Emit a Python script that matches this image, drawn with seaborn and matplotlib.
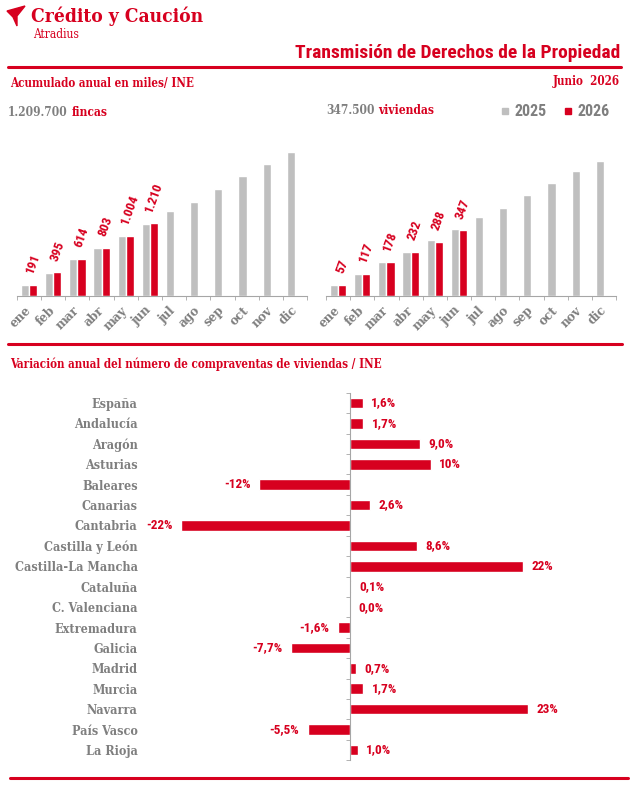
import numpy as np
import pandas as pd
import seaborn as sns
import matplotlib.pyplot as plt
from matplotlib import font_manager as fm
from matplotlib.lines import Line2D
from matplotlib.patches import Polygon

# --- datos ---
meses = ['ene', 'feb', 'mar', 'abr', 'may', 'jun', 'jul', 'ago', 'sep', 'oct', 'nov', 'dic']
fincas_2025 = [189, 389, 616, 805, 1005, 1199, 1410, 1571, 1776, 1998, 2198, 2398]
fincas_2026 = [191, 395, 614, 803, 1004, 1210]
viviendas_2025 = [58, 118, 181, 234, 298, 352, 419, 467, 532, 600, 660, 713]
viviendas_2026 = [57, 117, 178, 232, 288, 347]
total_fincas = 1209700
total_viviendas = 347500

regiones = ['España', 'Andalucía', 'Aragón', 'Asturias', 'Baleares', 'Canarias', 'Cantabria',
            'Castilla y León', 'Castilla-La Mancha', 'Cataluña', 'C. Valenciana', 'Extremadura',
            'Galicia', 'Madrid', 'Murcia', 'Navarra', 'País Vasco', 'La Rioja']
variacion = [1.6, 1.7, 9.0, 10.4, -11.8, 2.6, -21.8, 8.6, 22.4, 0.1, 0.0, -1.6,
             -7.7, 0.7, 1.7, 23.0, -5.5, 1.0]

RED = '#D7001F'
GRAY_BAR = '#BFBFBF'
GRAY_TXT = '#7F7F7F'
GRAY_AX = '#A6A6A6'

sns.set_style('white')
installed = {f.name for f in fm.fontManager.ttflist}
SANS = 'Roboto Condensed' if 'Roboto Condensed' in installed else 'Roboto'
plt.rcParams['font.family'] = [SANS, 'DejaVu Sans']

# slab serif: condensed cut if the system has it, otherwise the normal one a bit smaller
SLAB = 'DejaVu Serif'
slab_file = fm.findfont(fm.FontProperties(family=SLAB, weight='bold', stretch='condensed'))
K = 1.1 if 'Condensed' in slab_file else 1.0
slab = dict(family=SLAB, fontstretch='condensed', fontweight='bold')

W, H = 630, 794
fig = plt.figure(figsize=(W / 100, H / 100), dpi=100)


def fx(x):
    return x / W


def fy(y):
    return 1 - y / H


def box(left, top, right, bottom):
    return [fx(left), fy(bottom), (right - left) / W, (bottom - top) / H]


def miles(v):
    return f'{v:,}'.replace(',', '.')


def pct(v):
    if abs(v) >= 10:
        return f'{v:.0f}%'
    return f'{v:.1f}%'.replace('.', ',')


# --- cabecera ---
fig.add_artist(Polygon([(fx(7), fy(11)), (fx(25), fy(6)), (fx(17), fy(16)), (fx(17), fy(26)),
                        (fx(13), fy(17))], closed=True, color=RED, transform=fig.transFigure))
fig.text(fx(31), fy(16), 'Crédito y Caución', color=RED, fontsize=12.5 * K, va='center', **slab)
fig.text(fx(33), fy(35), 'Atradius', color=RED, fontsize=7.8 * K, family=SLAB,
         fontstretch='condensed', va='center')
fig.text(fx(620), fy(53), 'Transmisión de Derechos de la Propiedad', color=RED, fontsize=14,
         fontweight='bold', ha='right', va='center')
for y, x0, x1 in [(67, 8, 621), (344, 8, 622), (778, 10, 628)]:
    fig.add_artist(Line2D([fx(x0), fx(x1)], [fy(y), fy(y)], color=RED, lw=2.2))
fig.text(fx(10), fy(83), 'Acumulado anual en miles/ INE', color=RED, fontsize=7.6 * K,
         va='center', **slab)
fig.text(fx(620), fy(82), 'Junio  2026', color=RED, fontsize=7.6 * K, ha='right', va='center',
         **slab)
fig.text(fx(10), fy(364), 'Variación anual del número de compraventas de viviendas / INE',
         color=RED, fontsize=7.6 * K, va='center', **slab)


# --- barras acumuladas ---
def acumulado(ax, v2025, v2026, ytop):
    df = pd.DataFrame({
        'mes': meses * 2,
        'año': ['2025'] * 12 + ['2026'] * 12,
        'valor': v2025 + v2026 + [np.nan] * (12 - len(v2026)),
    })
    sns.barplot(data=df, x='mes', y='valor', hue='año', order=meses, hue_order=['2025', '2026'],
                palette={'2025': GRAY_BAR, '2026': RED}, width=0.67, saturation=1,
                legend=False, ax=ax)
    ax.bar_label(ax.containers[1], labels=[miles(v) for v in v2026], rotation=70, padding=7,
                 color=RED, fontsize=9.5, fontweight='bold')
    ax.set_xlim(-0.5, 11.5)
    ax.set_ylim(0, ytop)
    ax.set_xlabel('')
    ax.set_ylabel('')
    ax.set_yticks([])
    for s in ['top', 'right', 'left']:
        ax.spines[s].set_visible(False)
    ax.spines['bottom'].set_color(GRAY_AX)
    ax.set_xticks(np.arange(-0.5, 12), minor=True)
    ax.tick_params(axis='x', which='minor', length=3, color=GRAY_AX, direction='out', bottom=True)
    ax.tick_params(axis='x', which='major', length=0, pad=9)
    for lab in ax.get_xticklabels():
        lab.set(rotation=45, ha='right', va='center', rotation_mode='anchor', color=GRAY_TXT,
                fontsize=8.8 * K, **slab)
    ax.set_facecolor('none')
    return ax


ax1 = fig.add_axes(box(17, 140, 307, 296))
acumulado(ax1, fincas_2025, fincas_2026, 2600)
ax2 = fig.add_axes(box(326, 140, 616, 296))
acumulado(ax2, viviendas_2025, viviendas_2026, 825)

for ax, total, unidad, x, y in [(ax1, total_fincas, 'fincas', 8, 113),
                                (ax2, total_viviendas, 'viviendas', 326, 111)]:
    t = fig.text(fx(x), fy(y), miles(total), color=GRAY_TXT, fontsize=7.8 * K, va='center', **slab)
    ax.annotate(unidad, xy=(1, 0.5), xycoords=t, xytext=(3, 0), textcoords='offset points',
                color=RED, fontsize=7.8 * K, va='center', annotation_clip=False, **slab)

handles = [Line2D([], [], marker='s', ls='', color=GRAY_BAR, markersize=5),
           Line2D([], [], marker='s', ls='', color=RED, markersize=5)]
leg = fig.legend(handles, ['2025', '2026'], loc='center right', bbox_to_anchor=(fx(624), fy(112)),
                 ncol=2, frameon=False, handlelength=0.6, handletextpad=0.3, columnspacing=1.0,
                 prop={'size': 11.5, 'weight': 'bold'})
for t in leg.get_texts():
    t.set_color(GRAY_TXT)

# --- variación por comunidades ---
ax3 = fig.add_axes(box(118, 392.8, 621, 760.2))
sns.barplot(x=variacion, y=regiones, orient='h', color=RED, width=0.52, saturation=1, ax=ax3)
ax3.bar_label(ax3.containers[0], labels=[pct(v) for v in variacion], padding=6, color=RED,
              fontsize=9.5, fontweight='bold')
ax3.set_xlim(-30, 35)
ax3.set_ylim(17.5, -0.5)
ax3.set_xticks([])
for s in ['top', 'right', 'bottom']:
    ax3.spines[s].set_visible(False)
ax3.spines['left'].set_position(('data', 0))
ax3.spines['left'].set_color(GRAY_AX)
ax3.set_yticks(np.arange(-0.5, 18), minor=True)
ax3.tick_params(axis='y', which='minor', length=3, color=GRAY_AX, direction='out', left=True)
ax3.tick_params(axis='y', which='major', length=0, pad=153)
for lab in ax3.get_yticklabels():
    lab.set(color=GRAY_TXT, fontsize=8.2 * K, **slab)
ax3.set_facecolor('none')

fig.savefig('out.png', dpi=100)
